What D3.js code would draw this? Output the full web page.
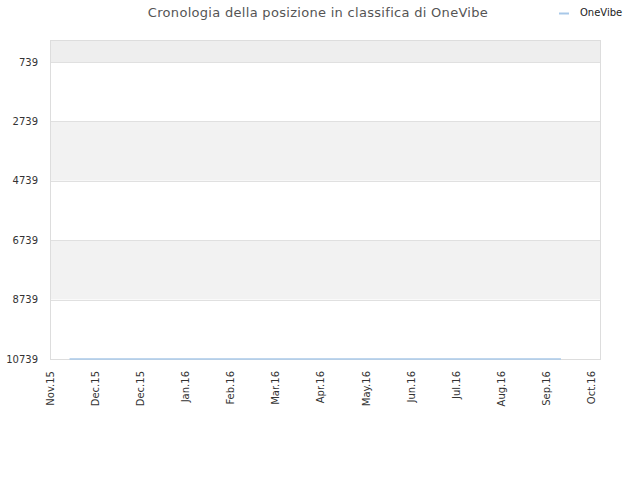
<html><head>
  <script src="https://d3js.org/d3.v7.min.js"></script>
  <style>
    body { margin: 0; background: #fff; }
    text { font-family: 'DejaVu Sans', sans-serif; }
  </style>
</head>
<body>
  <script>
    // Data
    const seriesName = "OneVibe"
    const dates = ["2015-11-14", "2015-12-14", "2016-01-14", "2016-02-14", "2016-03-14", "2016-04-14",
                   "2016-05-14", "2016-06-14", "2016-07-14", "2016-08-14", "2016-09-14", "2016-10-06"]
    const positions = [10739, 10739, 10739, 10739, 10739, 10739, 10739, 10739, 10739, 10739, 10739, 10739]
    const yTicks = [739, 2739, 4739, 6739, 8739, 10739]
    const xTickDays = [0, 30, 60, 90, 120, 150, 180, 210, 240, 270, 300, 330, 360]

    const parse = d3.timeParse("%Y-%m-%d")
    const data = dates.map((d, i) => ({ date: parse(d), value: positions[i] }))

    const width = 640, height = 480
    const margin = { top: 40, right: 40, bottom: 121, left: 50 }
    const plotW = width - margin.left - margin.right
    const plotH = height - margin.top - margin.bottom

    const svg = d3.select("body").append("svg")
                  .attr("width", width)
                  .attr("height", height)

    const start = parse("2015-11-01")
    const x = d3.scaleTime()
                .domain([start, parse("2016-11-01")])
                .range([margin.left, margin.left + plotW])
    const y = d3.scaleLinear()
                .domain([0, 10739])
                .range([margin.top, margin.top + plotH])

    // background bands
    const bands = [0].concat(yTicks)
    for (let i = 0; i < bands.length - 1; i++) {
      svg.append("rect")
         .attr("x", margin.left)
         .attr("y", y(bands[i]))
         .attr("width", plotW)
         .attr("height", y(bands[i + 1]) - y(bands[i]))
         .attr("fill", i == 0 ? "#eeeeee" : (i % 2 == 0 ? "#f2f2f2" : "#ffffff"))
    }

    // grid lines
    svg.selectAll(".grid").data(yTicks).join("line")
       .attr("x1", margin.left).attr("x2", margin.left + plotW)
       .attr("y1", d => Math.round(y(d)) + 0.5).attr("y2", d => Math.round(y(d)) + 0.5)
       .attr("stroke", "#e0e0e0")

    // frame
    svg.append("rect")
       .attr("x", margin.left + 0.5).attr("y", margin.top + 0.5)
       .attr("width", plotW).attr("height", plotH)
       .attr("fill", "none").attr("stroke", "#dddddd")

    // y axis
    const yAxis = d3.axisLeft(y).tickValues(yTicks).tickSize(0).tickPadding(12).tickFormat(d3.format("d"))
    const gy = svg.append("g").attr("transform", `translate(${margin.left},0)`).call(yAxis)
    gy.select(".domain").remove()
    gy.selectAll("text").attr("font-size", 10).attr("fill", "#333").style("font-family", "'DejaVu Sans', sans-serif")

    // x axis
    const xTicks = xTickDays.map(d => d3.timeDay.offset(start, d))
    const xAxis = d3.axisBottom(x).tickValues(xTicks).tickSize(0).tickFormat(d3.timeFormat("%b.%y"))
    const gx = svg.append("g").attr("transform", `translate(0,${margin.top + plotH})`).call(xAxis)
    gx.select(".domain").remove()
    gx.selectAll("text")
      .attr("font-size", 10).attr("fill", "#333").style("font-family", "'DejaVu Sans', sans-serif")
      .attr("text-anchor", "end")
      .attr("transform", "rotate(-90)")
      .attr("x", -12).attr("y", 0).attr("dy", "0.35em")

    // line
    const line = d3.line().x(d => x(d.date)).y(d => y(d.value))
    svg.append("path").datum(data)
       .attr("d", line)
       .attr("fill", "none")
       .attr("stroke", "#a8c8e8")
       .attr("stroke-width", 1.5)

    // title
    svg.append("text")
       .attr("x", 318).attr("y", 17)
       .attr("text-anchor", "middle")
       .attr("font-size", 13)
       .attr("fill", "#555")
       .style("letter-spacing", "0.3px")
       .text("Cronologia della posizione in classifica di " + seriesName)

    // legend
    svg.append("line")
       .attr("x1", 559).attr("x2", 569).attr("y1", 13.5).attr("y2", 13.5)
       .attr("stroke", "#a8c8e8").attr("stroke-width", 2)
    svg.append("text")
       .attr("x", 580).attr("y", 16)
       .attr("font-size", 10).attr("fill", "#222")
       .text(seriesName)
  </script>
</body></html>
